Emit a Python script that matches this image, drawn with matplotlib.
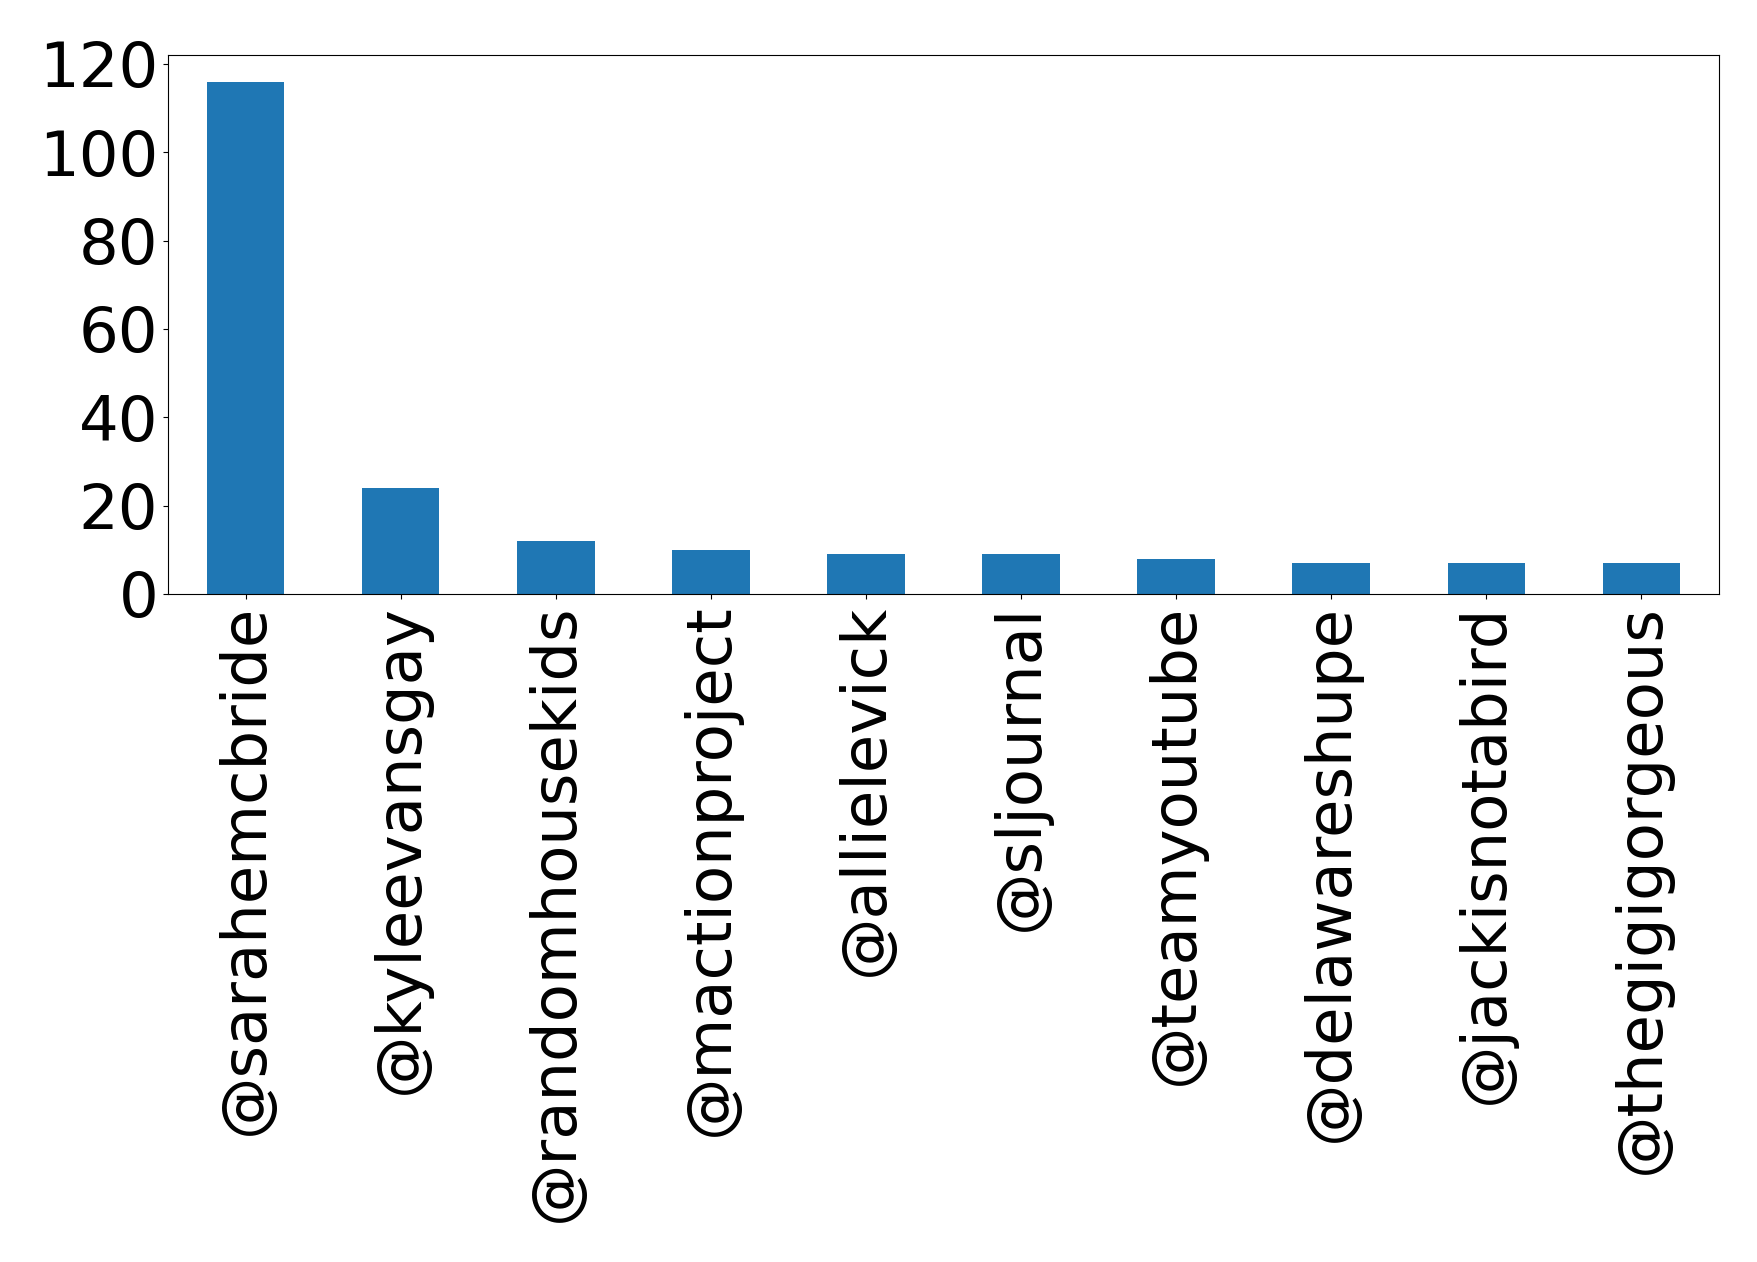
import matplotlib
matplotlib.use("Agg")
import matplotlib.pyplot as plt

handles = [
    "@sarahemcbride", "@kyleevansgay", "@randomhousekids", "@mactionproject",
    "@allielevick", "@sljournal", "@teamyoutube", "@delawareshupe",
    "@jackisnotabird", "@thegigigorgeous",
]
mentions = [116, 24, 12, 10, 9, 9, 8, 7, 7, 7]

fig = plt.figure(figsize=(17.58, 12.62), dpi=100)
ax = fig.add_axes([168 / 1758, 1 - 594 / 1262, (1719 - 168) / 1758, (594 - 55) / 1262])

pos = range(len(handles))
ax.bar(pos, mentions, width=0.5, color="#1f77b4")
ax.set_xlim(-0.5, len(handles) - 0.5)
ax.set_ylim(0, 122)
ax.set_yticks([0, 20, 40, 60, 80, 100, 120])
ax.set_xticks(list(pos))
ax.set_xticklabels(handles, rotation=90)
ax.tick_params(axis="both", labelsize=45)

fig.savefig("out.png", dpi=100)
